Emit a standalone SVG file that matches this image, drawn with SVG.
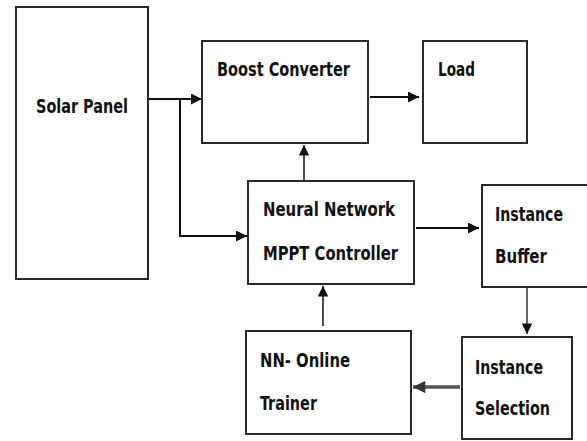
<svg xmlns="http://www.w3.org/2000/svg" width="587" height="441" viewBox="0 0 587 441">
<style>
.box{fill:#fff;stroke:#2a2a2a;stroke-width:2}
.lbl{font-family:"DejaVu Sans Condensed","DejaVu Sans",sans-serif;font-weight:bold;font-size:20px;fill:#111}
.ln{stroke:#111;stroke-width:2;fill:none}
</style>
<defs>
<marker id="ah" viewBox="0 0 10 10" refX="10" refY="5" markerWidth="7" markerHeight="5.5" markerUnits="strokeWidth" orient="auto"><path d="M0,0 L10,5 L0,10 z" fill="#111"/></marker>
<marker id="ahs" viewBox="0 0 10 10" refX="10" refY="5" markerWidth="8" markerHeight="7" markerUnits="strokeWidth" orient="auto"><path d="M0,0 L10,5 L0,10 z" fill="#111"/></marker>
<marker id="ahg" viewBox="0 0 10 10" refX="10" refY="5" markerWidth="4" markerHeight="3.5" markerUnits="strokeWidth" orient="auto"><path d="M0,0 L10,5 L0,10 z" fill="#333"/></marker>
</defs>
<rect width="587" height="441" fill="#fff"/>
<g id="solar-panel"><rect class="box" x="16" y="7" width="132" height="272"/><text class="lbl" x="36" y="113" textLength="92" lengthAdjust="spacingAndGlyphs">Solar Panel</text></g>
<g id="boost-converter"><rect class="box" x="202" y="41" width="166" height="102"/><text class="lbl" x="217" y="76" textLength="133" lengthAdjust="spacingAndGlyphs">Boost Converter</text></g>
<g id="load"><rect class="box" x="423" y="41" width="104" height="102"/><text class="lbl" x="438" y="76" textLength="37" lengthAdjust="spacingAndGlyphs">Load</text></g>
<g id="nn-mppt"><rect class="box" x="248" y="181" width="166" height="103"/><text class="lbl" x="263" y="216" textLength="132" lengthAdjust="spacingAndGlyphs">Neural Network</text><text class="lbl" x="263" y="260" textLength="135" lengthAdjust="spacingAndGlyphs">MPPT Controller</text></g>
<g id="instance-buffer"><rect class="box" x="482" y="185" width="106" height="102"/><text class="lbl" x="495" y="221" textLength="68" lengthAdjust="spacingAndGlyphs">Instance</text><text class="lbl" x="495" y="263" textLength="52" lengthAdjust="spacingAndGlyphs">Buffer</text></g>
<g id="instance-selection"><rect class="box" x="462" y="337" width="110" height="102"/><text class="lbl" x="475" y="374" textLength="68" lengthAdjust="spacingAndGlyphs">Instance</text><text class="lbl" x="475" y="415" textLength="75" lengthAdjust="spacingAndGlyphs">Selection</text></g>
<g id="nn-online-trainer"><rect class="box" x="246" y="331" width="165" height="103"/><text class="lbl" x="260" y="367" textLength="90" lengthAdjust="spacingAndGlyphs">NN- Online</text><text class="lbl" x="260" y="410" textLength="57" lengthAdjust="spacingAndGlyphs">Trainer</text></g>
<g id="connectors">
<line class="ln" x1="149" y1="99" x2="202" y2="99" marker-end="url(#ah)"/>
<polyline class="ln" points="180,99 180,236 247,236" marker-end="url(#ah)"/>
<line class="ln" x1="370" y1="97" x2="419" y2="97" marker-end="url(#ah)"/>
<line class="ln" x1="304" y1="180" x2="304" y2="145" marker-end="url(#ahs)" style="stroke-width:1.5"/>
<line class="ln" x1="416" y1="228" x2="479" y2="228" marker-end="url(#ah)"/>
<line class="ln" x1="527" y1="288" x2="527" y2="334" marker-end="url(#ahs)" style="stroke-width:1.5;stroke:#333"/>
<line class="ln" x1="460" y1="387" x2="413" y2="387" marker-end="url(#ahg)" style="stroke-width:3.5;stroke:#555"/>
<line class="ln" x1="323" y1="326" x2="323" y2="286" marker-end="url(#ahs)" style="stroke-width:1.5"/>
</g>
</svg>
